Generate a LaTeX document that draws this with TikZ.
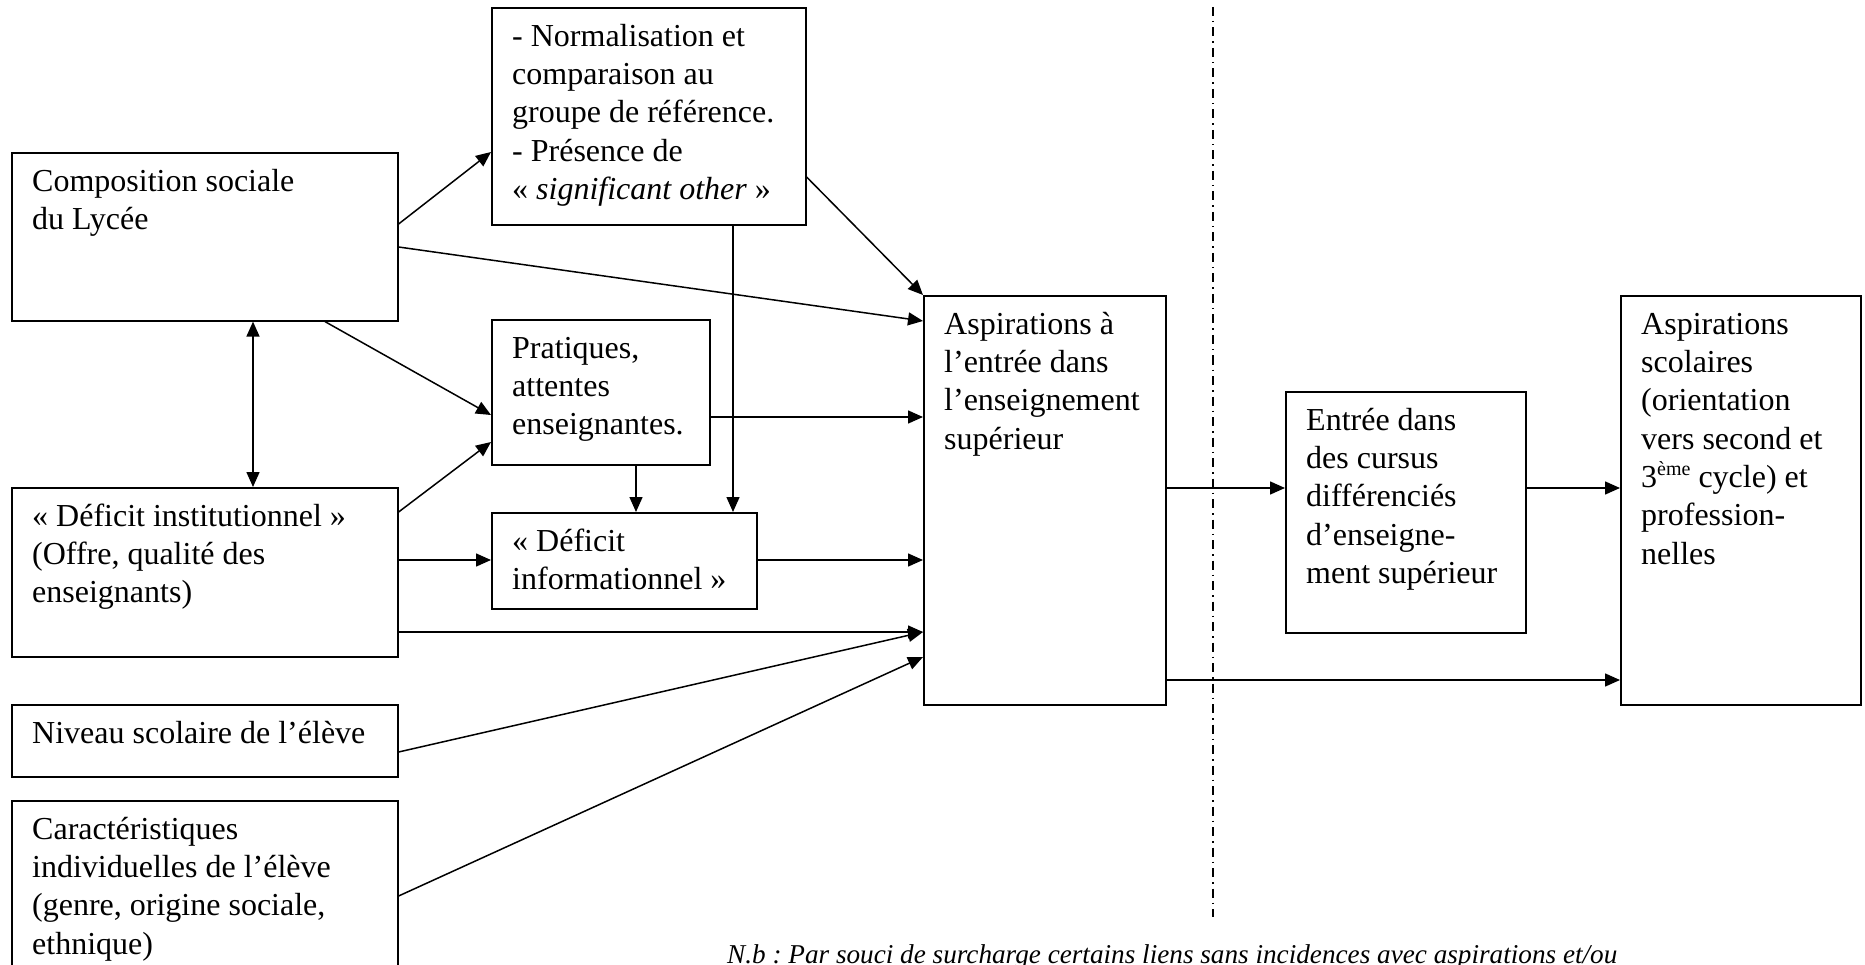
\documentclass[tikz,border=0pt]{standalone}
\usepackage{fontspec}
\setmainfont{Liberation Serif}
\usetikzlibrary{arrows.meta}
\frenchspacing
\tikzset{
  box/.style={draw, line width=1.6pt, rectangle, inner sep=0pt, anchor=north west},
  txt/.style={anchor=north west, inner sep=0pt, align=left, font=\fontsize{32}{38.3}\selectfont},
  arr/.style={line width=1.5pt, -{Triangle[length=15pt,width=13pt]}},
  darr/.style={line width=1.5pt, {Triangle[length=15pt,width=13pt]}-{Triangle[length=15pt,width=13pt]}},
  sep/.style={line width=1.3pt, dash pattern=on 9pt off 5pt on 1.5pt off 5pt},
}
\newcommand{\fs}{\rule{0pt}{25pt}}
\begin{document}
\begin{tikzpicture}[x=1pt,y=-1pt]
\useasboundingbox (0,0) rectangle (1865,965);
\clip (0,0) rectangle (1865,965);
% boxes
\node[box, minimum width=386pt, minimum height=168pt] (comp) at (11,152) {};
\node[box, minimum width=314pt, minimum height=217pt] (norm) at (491,7) {};
\node[box, minimum width=218pt, minimum height=145pt] (prat) at (491,319) {};
\node[box, minimum width=386pt, minimum height=169pt] (inst) at (11,487) {};
\node[box, minimum width=265pt, minimum height=96pt] (info) at (491,512) {};
\node[box, minimum width=386pt, minimum height=72pt] (niv) at (11,704) {};
\node[box, minimum width=386pt, minimum height=220pt] (car) at (11,800) {};
\node[box, minimum width=242pt, minimum height=409pt] (asp) at (923,295) {};
\node[box, minimum width=240pt, minimum height=241pt] (ent) at (1285,391) {};
\node[box, minimum width=240pt, minimum height=409pt] (scol) at (1620,295) {};
% texts
\node[txt] (tcomp) at ([xshift=21pt,yshift=-14pt]comp.north west) {\fs Composition sociale\\du Lycée};
\node[txt] (tnorm) at ([xshift=21pt,yshift=-14pt]norm.north west) {\fs - Normalisation et\\comparaison au\\groupe de référence.\\- Présence de\\« \textit{significant other} »};
\node[txt] (tprat) at ([xshift=21pt,yshift=-14pt]prat.north west) {\fs Pratiques,\\attentes\\enseignantes.};
\node[txt] (tinst) at ([xshift=21pt,yshift=-14pt]inst.north west) {\fs « Déficit institutionnel »\\(Offre, qualité des\\enseignants)};
\node[txt] (tinfo) at ([xshift=21pt,yshift=-14pt]info.north west) {\fs « Déficit\\informationnel »};
\node[txt] (tniv) at ([xshift=21pt,yshift=-14pt]niv.north west) {\fs Niveau scolaire de l’élève};
\node[txt] (tcar) at ([xshift=21pt,yshift=-14pt]car.north west) {\fs Caractéristiques\\individuelles de l’élève\\(genre, origine sociale,\\ethnique)};
\node[txt] (tasp) at ([xshift=21pt,yshift=-14pt]asp.north west) {\fs Aspirations à\\l’entrée dans\\l’enseignement\\supérieur};
\node[txt] (tent) at ([xshift=21pt,yshift=-14pt]ent.north west) {\fs Entrée dans\\des cursus\\différenciés\\d’enseigne-\\ment supérieur};
\node[txt] (tscol) at ([xshift=21pt,yshift=-14pt]scol.north west) {\fs Aspirations\\scolaires\\(orientation\\vers second et\\3{\fontsize{20}{20}\selectfont\raisebox{12pt}{ème}} cycle) et\\profession-\\nelles};
\node[anchor=base west, inner sep=0pt, font=\fontsize{27.2}{30}\selectfont\itshape] (note) at (727,963) {N.b : Par souci de surcharge certains liens sans incidences avec aspirations et/ou};
% separator
\coordinate (s1) at (1213,7);
\coordinate (s2) at (1213,917);
\draw[sep] (s1) -- (s2);
% connectors
\draw[arr] ([yshift=-72pt]comp.north east) -- ([yshift=-145pt]norm.north west);
\draw[arr] ([yshift=-95pt]comp.north east) -- ([yshift=-26pt]asp.north west);
\draw[arr] ([yshift=-170pt]norm.north east) -- (asp.north west);
\draw[arr] ([xshift=314pt]comp.south west) -- ([yshift=-96pt]prat.north west);
\draw[darr] ([xshift=242pt]comp.south west) -- ([xshift=242pt]inst.north west);
\draw[arr] ([yshift=-25pt]inst.north east) -- ([yshift=-123pt]prat.north west);
\draw[arr] ([yshift=-98pt]prat.north east) -- ([yshift=-122pt]asp.north west);
\draw[arr] ([xshift=145pt]prat.south west) -- ([xshift=145pt]info.north west);
\draw[arr] ([xshift=242pt]norm.south west) -- ([xshift=242pt]info.north west);
\draw[arr] ([yshift=-73pt]inst.north east) -- ([yshift=-48pt]info.north west);
\draw[arr] ([yshift=-48pt]info.north east) -- ([yshift=-265pt]asp.north west);
\draw[arr] ([yshift=-145pt]inst.north east) -- ([yshift=-337pt]asp.north west);
\draw[arr] ([yshift=-48pt]niv.north east) -- ([yshift=-337pt]asp.north west);
\draw[arr] ([yshift=-96pt]car.north east) -- ([yshift=-362pt]asp.north west);
\draw[arr] ([yshift=-193pt]asp.north east) -- ([yshift=-97pt]ent.north west);
\draw[arr] ([yshift=-97pt]ent.north east) -- ([yshift=-193pt]scol.north west);
\draw[arr] ([yshift=-385pt]asp.north east) -- ([yshift=-385pt]scol.north west);
\end{tikzpicture}
\end{document}
